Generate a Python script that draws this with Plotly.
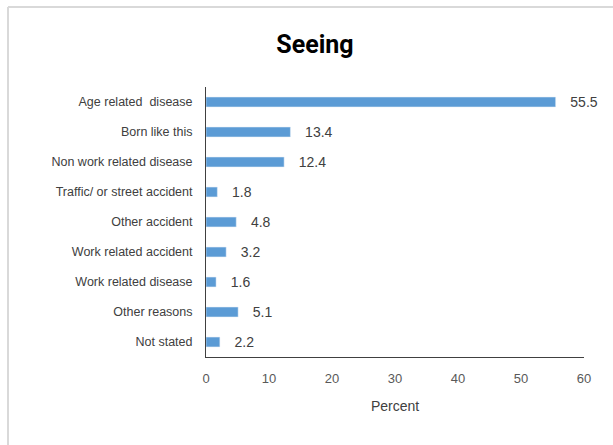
import plotly.graph_objects as go

categories = ["Age related  disease", "Born like this", "Non work related disease",
              "Traffic/ or street accident", "Other accident", "Work related accident",
              "Work related disease", "Other reasons", "Not stated"]
values = [55.5, 13.4, 12.4, 1.8, 4.8, 3.2, 1.6, 5.1, 2.2]
x_ticks = [0, 10, 20, 30, 40, 50, 60]

fig = go.Figure(go.Bar(
    y=categories, x=values, orientation="h",
    width=0.33, marker_color="#5b9bd5",
    text=[f"   {v:.1f}" for v in values], textposition="outside",
    constraintext="none",
    textfont=dict(size=14, color="#404040", family="Liberation Sans"),
    cliponaxis=False,
))

W, H = 613, 445
l, r, t, b = 206, 29, 87, 88
pw, ph = W - l - r, H - t - b

def px2paper_x(px):
    return (px - l) / pw

def px2paper_y(py):
    return (H - b - py) / ph

fig.update_layout(
    width=W, height=H,
    margin=dict(l=l, r=r, t=t, b=b, pad=0),
    paper_bgcolor="white", plot_bgcolor="white",
    showlegend=False,
    title=dict(text="<b>Seeing</b>", x=315 / W, xanchor="center",
               y=1 - 44 / H, yanchor="middle",
               font=dict(size=25, color="black", family="Roboto")),
    xaxis=dict(range=[0, 60], tickvals=x_ticks, showgrid=False, zeroline=False,
               showline=True, linecolor="#404040", linewidth=1, ticks="",
               ticklabelstandoff=9,
               tickfont=dict(size=13, color="#595959", family="Liberation Sans"),
               title=dict(text="Percent", font=dict(size=14, color="#404040", family="Liberation Sans"),
                          standoff=16)),
    yaxis=dict(autorange="reversed", showgrid=False, zeroline=False,
               showline=True, linecolor="#404040", linewidth=1, ticks="",
               ticklabelstandoff=10,
               tickfont=dict(size=12.5, color="#404040", family="Liberation Sans")),
    shapes=[
        dict(type="line", xref="paper", yref="paper",
             x0=px2paper_x(8), x1=px2paper_x(8), y0=px2paper_y(7), y1=px2paper_y(445),
             line=dict(color="#d9d9d9", width=2)),
        dict(type="line", xref="paper", yref="paper",
             x0=px2paper_x(8), x1=px2paper_x(613), y0=px2paper_y(7), y1=px2paper_y(7),
             line=dict(color="#d9d9d9", width=2)),
    ],
)

fig.write_html("out.html", config={"displayModeBar": False},
               post_script="document.body.style.margin='0';document.body.style.overflow='hidden';")
